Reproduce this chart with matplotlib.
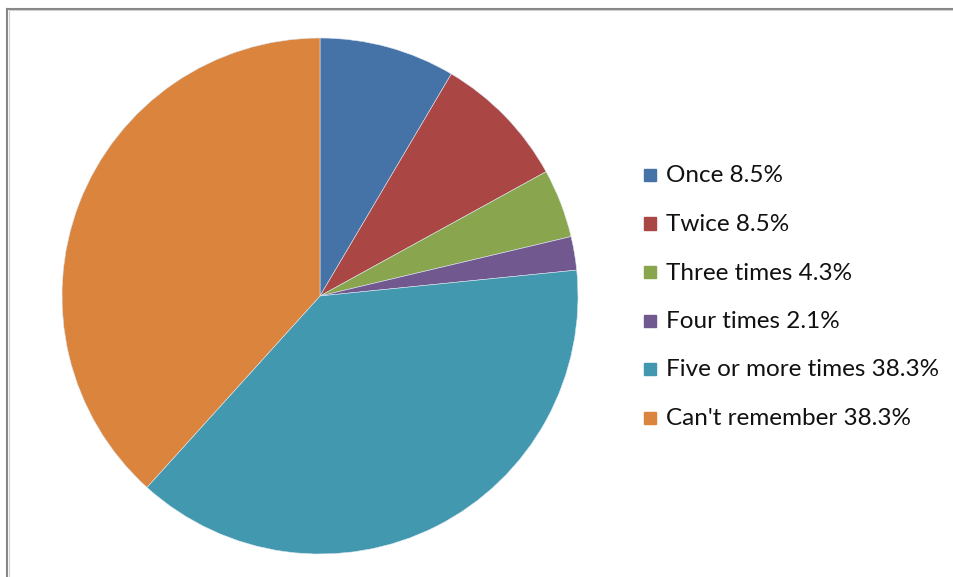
import matplotlib.pyplot as plt
from matplotlib.lines import Line2D
from matplotlib.patches import Rectangle

categories = ['Once', 'Twice', 'Three times', 'Four times',
              'Five or more times', "Can't remember"]
shares = [8.5, 8.5, 4.3, 2.1, 38.3, 38.3]
colors = ['#4572A7', '#AA4643', '#89A54E', '#71588F', '#4198AF', '#DB843D']

W, H = 954, 577
fig = plt.figure(figsize=(W / 100, H / 100), dpi=100)

# pie area, in pixels: x 62..578, y 38..554
ax = fig.add_axes([62 / W, 1 - 554 / H, 516 / W, 516 / H])
ax.pie(shares, colors=colors, startangle=90, counterclock=False,
       radius=1, wedgeprops=dict(edgecolor='#dde6f0', linewidth=0.4))
ax.set_xlim(-1, 1)
ax.set_ylim(-1, 1)
ax.set_aspect('equal')
ax.axis('off')

# legend by hand
row0, step = 175, 48.5
for i, (cat, val) in enumerate(zip(categories, shares)):
    yc = row0 + i * step
    fig.patches.append(Rectangle((644 / W, 1 - (yc + 6) / H), 12 / W, 12 / H,
                                 transform=fig.transFigure, color=colors[i]))
    fig.text(666 / W, 1 - (yc + 1) / H, f'{cat} {val}%', fontsize=17.5,
             family='Lato', va='center', ha='left', color='#111111')

# chart frame (only top and left edges are in view)
fig.lines.append(Line2D([7.5 / W, 1], [1 - 8.5 / H, 1 - 8.5 / H],
                        transform=fig.transFigure, color='#878787', lw=1.5))
fig.lines.append(Line2D([7.5 / W, 7.5 / W], [0, 1 - 8.5 / H],
                        transform=fig.transFigure, color='#878787', lw=1.5))
fig.lines.append(Line2D([9.5 / W, 1], [1 - 10 / H, 1 - 10 / H],
                        transform=fig.transFigure, color='#d0d0d0', lw=0.8))
fig.lines.append(Line2D([9.5 / W, 9.5 / W], [0, 1 - 10 / H],
                        transform=fig.transFigure, color='#d0d0d0', lw=0.8))

fig.savefig('out.png', dpi=100)
